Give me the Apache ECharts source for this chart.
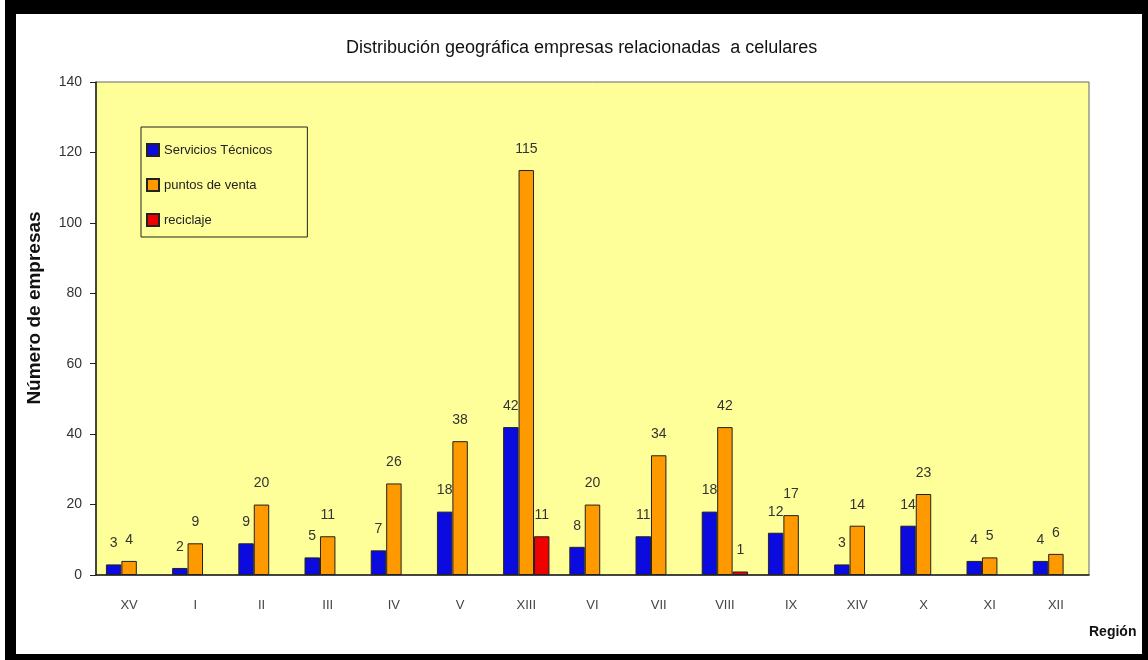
<!DOCTYPE html>
<html>
<head>
<meta charset="utf-8">
<script src="https://cdn.jsdelivr.net/npm/echarts@6/dist/echarts.min.js"></script>
<style>
  html, body { margin: 0; padding: 0; background: #fff; }
  #frame {
    position: absolute; left: 5px; top: 0; width: 1143px; height: 660px;
    box-sizing: border-box; background: #fff;
    border-left: 11px solid #000; border-top: 14px solid #000;
    border-right: 6px solid #000; border-bottom: 6px solid #000;
  }
  #JS_BarChart { position: absolute; left: 0; top: 0; width: 1148px; height: 660px; }
</style>
</head>
<body>
<div id="frame"></div>
<div id="JS_BarChart"></div>
<script>
const regiones = ["XV", "I", "II", "III", "IV", "V", "XIII", "VI", "VII", "VIII", "IX", "XIV", "X", "XI", "XII"];
const serviciosTecnicos = [3, 2, 9, 5, 7, 18, 42, 8, 11, 18, 12, 3, 14, 4, 4];
const puntosDeVenta = [4, 9, 20, 11, 26, 38, 115, 20, 34, 42, 17, 14, 23, 5, 6];
const reciclaje = [null, null, null, null, null, null, 11, null, null, 1, null, null, null, null, null];
const yTicks = { min: 0, max: 140, interval: 20 };

const font = "Arial, 'Liberation Sans', sans-serif";
const labelStyle = {
  show: true,
  position: "top",
  distance: 14,
  color: "#333",
  fontSize: 14,
  fontFamily: font,
};

function barSeries(name, data, color) {
  return {
    name: name,
    type: "bar",
    data: data,
    barGap: "0%",
    barCategoryGap: "30%",
    itemStyle: { color: color, borderColor: "#222", borderWidth: 1 },
    label: labelStyle,
  };
}

const option = {
  animation: false,
  title: {
    text: "Distribución geográfica empresas relacionadas  a celulares",
    left: 341,
    top: 34,
    textStyle: { fontFamily: font, fontSize: 18, fontWeight: "normal", color: "#111" },
  },
  legend: {
    orient: "vertical",
    left: 141,
    top: 127,
    padding: [16, 35, 10, 5],
    itemWidth: 12,
    itemHeight: 12,
    itemGap: 21,
    backgroundColor: "#FFFF99",
    borderColor: "#222",
    borderWidth: 1,
    borderRadius: 0,
    textStyle: { fontFamily: font, fontSize: 13, color: "#222" },
    data: [
      { name: "Servicios Técnicos", icon: "rect" },
      { name: "puntos de venta", icon: "rect" },
      { name: "reciclaje", icon: "rect" },
    ],
  },
  grid: {
    left: 96,
    right: 59,
    top: 82,
    bottom: 85,
    show: true,
    backgroundColor: "#FFFF99",
    borderColor: "#666",
    borderWidth: 1,
  },
  xAxis: {
    type: "category",
    data: regiones,
    axisLine: { lineStyle: { color: "#222", width: 1.5 } },
    axisTick: { length: 6, lineStyle: { color: "#222" } },
    axisLabel: { margin: 24, color: "#444", fontSize: 13, fontFamily: font },
  },
  yAxis: {
    type: "value",
    min: yTicks.min,
    max: yTicks.max,
    interval: yTicks.interval,
    splitLine: { show: false },
    axisLine: { show: true, lineStyle: { color: "#222", width: 1.5 } },
    axisTick: { show: true, length: 6, lineStyle: { color: "#222" } },
    axisLabel: { margin: 14, color: "#333", fontSize: 14, fontFamily: font },
  },
  graphic: [
    {
      type: "text",
      x: 35,
      y: 308,
      rotation: Math.PI / 2,
      style: {
        text: "Número de empresas",
        fontFamily: font,
        fontSize: 19,
        fontWeight: "bold",
        fill: "#111",
        align: "center",
        verticalAlign: "middle",
      },
    },
    {
      type: "text",
      left: 1089,
      top: 625,
      style: { text: "Región", fontFamily: font, fontSize: 14, fontWeight: "bold", fill: "#111" },
    },
  ],
  series: [
    barSeries("Servicios Técnicos", serviciosTecnicos, "#0B0BE0"),
    barSeries("puntos de venta", puntosDeVenta, "#FF9900"),
    barSeries("reciclaje", reciclaje, "#F00000"),
  ],
};

const chart = echarts.init(document.getElementById("JS_BarChart"));
chart.setOption(option);
</script>
</body>
</html>
